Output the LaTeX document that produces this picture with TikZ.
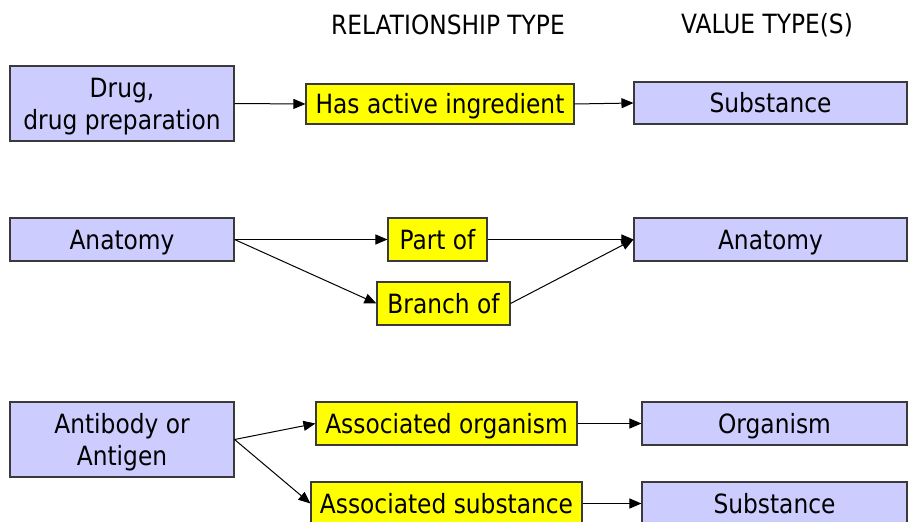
\documentclass[tikz,border=0pt]{standalone}
\usepackage{fontspec}
\setmainfont{DejaVu Sans}[FakeStretch=0.88]
\usetikzlibrary{arrows.meta}
\definecolor{lav}{HTML}{CCCCFF}
\definecolor{yel}{HTML}{FFFF00}
\definecolor{edge}{HTML}{3A3A3A}
\tikzset{
  base/.style={draw=edge, line width=1.1pt, inner sep=0pt, align=center,
    font=\fontsize{26.5}{32}\selectfont},
  oneline/.style={text height=22pt, text depth=3pt},
  concept/.style={base, fill=lav},
  rel/.style={base, fill=yel, oneline},
  link/.style={line width=1pt, -{Triangle[length=12pt,width=10pt]}},
  head/.style={font=\fontsize{26.5}{32}\selectfont}
}
\begin{document}
\begin{tikzpicture}[x=1pt, y=-1pt]
\useasboundingbox (0,0) rectangle (908,522);

% column headings
\node[head] (hrel) at (448,25) {RELATIONSHIP TYPE};
\node[head] (hval) at (767,25) {VALUE TYPE(S)};

% row 1
\node[concept, minimum width=224pt, minimum height=75pt] (drug) at (122,103.5) {\rule{0pt}{25pt}Drug,\\drug preparation};
\node[rel, minimum width=268pt, minimum height=40pt] (hai) at (440,104) {Has active ingredient};
\node[concept, oneline, minimum width=273pt, minimum height=42pt] (sub1) at (770.5,103) {Substance};

% row 2
\node[concept, oneline, minimum width=224pt, minimum height=43pt] (anat1) at (122,239.5) {Anatomy};
\node[rel, minimum width=99pt, minimum height=43pt] (part) at (437.5,239.5) {Part of};
\node[rel, minimum width=133pt, minimum height=43pt] (branch) at (443.5,303.5) {Branch of};
\node[concept, oneline, minimum width=273pt, minimum height=43pt] (anat2) at (770.5,239.5) {Anatomy};

% row 3
\node[concept, minimum width=224pt, minimum height=75pt] (ab) at (122,439.5) {\rule{0pt}{25pt}Antibody or\\Antigen};
\node[rel, minimum width=261pt, minimum height=43pt] (aorg) at (446.5,423.5) {Associated organism};
\node[rel, minimum width=271pt, minimum height=43pt] (asub) at (446.5,503.5) {Associated substance};
\node[concept, oneline, minimum width=265pt, minimum height=43pt] (org) at (774.5,423.5) {Organism};
\node[concept, oneline, minimum width=265pt, minimum height=43pt] (sub2) at (774.5,503.5) {Substance};

% connectors
\draw[link] (drug.east) -- (hai.west);
\draw[link] (hai.east) -- (sub1.west);

\draw[link] (anat1.east) -- (part.west);
\draw[link] (anat1.east) -- (branch.west);
\draw[link] (part.east) -- (anat2.west);
\draw[link] (branch.east) -- (anat2.west);

\draw[link] (ab.east) -- (aorg.west);
\draw[link] (ab.east) -- (asub.west);
\draw[link] (aorg.east) -- (org.west);
\draw[link] (asub.east) -- (sub2.west);
\end{tikzpicture}
\end{document}
